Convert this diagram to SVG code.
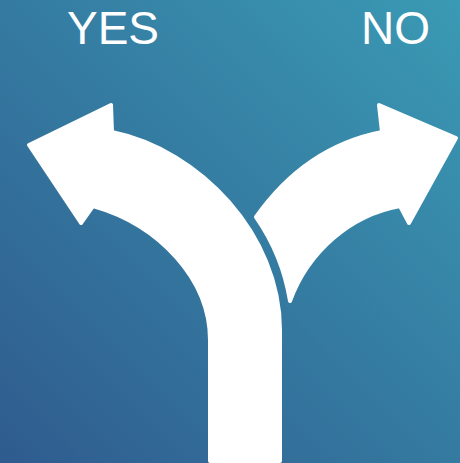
<svg xmlns="http://www.w3.org/2000/svg" width="460" height="463" viewBox="0 0 460 463">
  <defs>
    <linearGradient id="bg" gradientUnits="userSpaceOnUse" x1="0" y1="463" x2="460" y2="0">
      <stop offset="0" stop-color="#2f5b8e"/>
      <stop offset="1" stop-color="#3a9ab4"/>
    </linearGradient>
    <style>
      .arrow { fill: #ffffff; stroke: #ffffff; stroke-width: 4; stroke-linejoin: round; }
      .label { font-family: "Liberation Sans", Arial, sans-serif; font-size: 46px; fill: #ffffff; }
    </style>
  </defs>
  <rect x="0" y="0" width="460" height="463" fill="url(#bg)"/>
  <g id="label-yes"><text class="label" x="67" y="44">YES</text></g>
  <g id="label-no"><text class="label" x="361" y="44">NO</text></g>
  <g id="arrow-no">
    <path class="arrow" d="M 290,301 C 285,270 272,240 256,217 C 292,166 336,141 382,132 L 379,105 L 456,138 L 409,223 L 400,206 C 350,215 308,252 290,301 Z"/>
  </g>
  <g id="arrow-yes">
    <path class="arrow" d="M 210,461 L 210,340 C 210,280 160,225 93,206 L 81,223 L 29,145 L 111,105 L 112,132 C 200,150 280,235 280,330 L 280,461 Z"/>
  </g>
  <g id="connectors"></g>
</svg>
